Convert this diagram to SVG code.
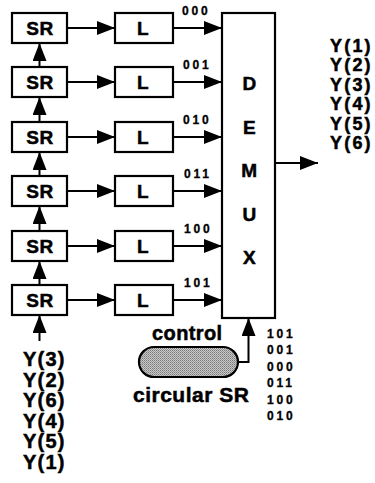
<svg xmlns="http://www.w3.org/2000/svg" width="375" height="483" viewBox="0 0 375 483">
<style>
.box{fill:#fff;stroke:#000;stroke-width:2.2}
.ln{fill:none;stroke:#000;stroke-width:2}
.t{font-family:"Liberation Sans",Arial,Helvetica,sans-serif;font-weight:bold;fill:#000;stroke:#000;stroke-width:0.5}
.big{font-size:19px;text-anchor:middle;letter-spacing:0.5px}
.code{font-size:12px;letter-spacing:2.8px;stroke-width:0.3}
.y{font-size:20px;letter-spacing:1.2px}
.yr{font-size:18px;letter-spacing:2.2px}
</style>
<defs>
<marker id="ah" markerUnits="userSpaceOnUse" markerWidth="18" markerHeight="14" refX="18" refY="7" orient="auto">
<path d="M0,0 L18,7 L0,14 Z" fill="#000"/>
</marker>
<pattern id="stip" width="2" height="2" patternUnits="userSpaceOnUse">
<rect width="2" height="2" fill="#c8c8c8"/>
<rect width="1" height="1" fill="#777"/>
<rect x="1" y="1" width="1" height="1" fill="#999"/>
</pattern>
</defs>
<rect width="375" height="483" fill="#fff"/>
<g id="connectors">
<line class="ln" x1="67" y1="28" x2="115" y2="28" marker-end="url(#ah)"/>
<line class="ln" x1="67" y1="82" x2="115" y2="82" marker-end="url(#ah)"/>
<line class="ln" x1="67" y1="137" x2="115" y2="137" marker-end="url(#ah)"/>
<line class="ln" x1="67" y1="191" x2="115" y2="191" marker-end="url(#ah)"/>
<line class="ln" x1="67" y1="246" x2="115" y2="246" marker-end="url(#ah)"/>
<line class="ln" x1="67" y1="300" x2="115" y2="300" marker-end="url(#ah)"/>
<line class="ln" x1="173" y1="28" x2="222" y2="28" marker-end="url(#ah)"/>
<line class="ln" x1="173" y1="82" x2="222" y2="82" marker-end="url(#ah)"/>
<line class="ln" x1="173" y1="137" x2="222" y2="137" marker-end="url(#ah)"/>
<line class="ln" x1="173" y1="191" x2="222" y2="191" marker-end="url(#ah)"/>
<line class="ln" x1="173" y1="246" x2="222" y2="246" marker-end="url(#ah)"/>
<line class="ln" x1="173" y1="300" x2="222" y2="300" marker-end="url(#ah)"/>
<line class="ln" x1="39.5" y1="67" x2="39.5" y2="43" marker-end="url(#ah)"/>
<line class="ln" x1="39.5" y1="122" x2="39.5" y2="97" marker-end="url(#ah)"/>
<line class="ln" x1="39.5" y1="176" x2="39.5" y2="152" marker-end="url(#ah)"/>
<line class="ln" x1="39.5" y1="231" x2="39.5" y2="206" marker-end="url(#ah)"/>
<line class="ln" x1="39.5" y1="285" x2="39.5" y2="261" marker-end="url(#ah)"/>
<line class="ln" x1="39.5" y1="341" x2="39.5" y2="315" marker-end="url(#ah)"/>
<line class="ln" x1="275" y1="163" x2="318" y2="163" marker-end="url(#ah)"/>
<polyline class="ln" points="238,362 248.5,362 248.5,318" marker-end="url(#ah)"/>
<text class="t code" x="182" y="14.5">000</text>
<text class="t code" x="183" y="68.5">001</text>
<text class="t code" x="183" y="123.5">010</text>
<text class="t code" x="184" y="177.5">011</text>
<text class="t code" x="184" y="232.5">100</text>
<text class="t code" x="184" y="286.5">101</text>
</g>
<g id="sr1"><rect class="box" x="12" y="13" width="55" height="30"/><text class="t big" x="40" y="35">SR</text></g>
<g id="sr2"><rect class="box" x="12" y="67" width="55" height="30"/><text class="t big" x="40" y="89">SR</text></g>
<g id="sr3"><rect class="box" x="12" y="122" width="55" height="30"/><text class="t big" x="40" y="144">SR</text></g>
<g id="sr4"><rect class="box" x="12" y="176" width="55" height="30"/><text class="t big" x="40" y="198">SR</text></g>
<g id="sr5"><rect class="box" x="12" y="231" width="55" height="30"/><text class="t big" x="40" y="253">SR</text></g>
<g id="sr6"><rect class="box" x="12" y="285" width="55" height="30"/><text class="t big" x="40" y="307">SR</text></g>
<g id="l1"><rect class="box" x="115" y="13" width="58" height="30"/><text class="t big" x="143" y="35">L</text></g>
<g id="l2"><rect class="box" x="115" y="67" width="58" height="30"/><text class="t big" x="143" y="89">L</text></g>
<g id="l3"><rect class="box" x="115" y="122" width="58" height="30"/><text class="t big" x="143" y="144">L</text></g>
<g id="l4"><rect class="box" x="115" y="176" width="58" height="30"/><text class="t big" x="143" y="198">L</text></g>
<g id="l5"><rect class="box" x="115" y="231" width="58" height="30"/><text class="t big" x="143" y="253">L</text></g>
<g id="l6"><rect class="box" x="115" y="285" width="58" height="30"/><text class="t big" x="143" y="307">L</text></g>
<g id="demux">
<rect class="box" x="222" y="13" width="53" height="305"/>
<text class="t big" x="249.5" y="90">D</text>
<text class="t big" x="249.5" y="134">E</text>
<text class="t big" x="249.5" y="177">M</text>
<text class="t big" x="249.5" y="221">U</text>
<text class="t big" x="249.5" y="264">X</text>
</g>
<g id="outputs">
<text class="t yr" x="330" y="52">Y(1)</text>
<text class="t yr" x="330" y="71.4">Y(2)</text>
<text class="t yr" x="330" y="90.8">Y(3)</text>
<text class="t yr" x="330" y="110.2">Y(4)</text>
<text class="t yr" x="330" y="129.6">Y(5)</text>
<text class="t yr" x="330" y="149">Y(6)</text>
</g>
<g id="inputs">
<text class="t y" x="23" y="366">Y(3)</text>
<text class="t y" x="23" y="386.6">Y(2)</text>
<text class="t y" x="23" y="407.2">Y(6)</text>
<text class="t y" x="23" y="427.8">Y(4)</text>
<text class="t y" x="23" y="448.4">Y(5)</text>
<text class="t y" x="23" y="469">Y(1)</text>
</g>
<g id="circular-sr">
<rect x="139" y="347" width="99" height="30" rx="15" ry="15" fill="url(#stip)" stroke="#000" stroke-width="2.2"/>
<text class="t" x="152" y="340" style="font-size:20px;letter-spacing:0.4px">control</text>
<text class="t" x="133" y="402" style="font-size:21px;letter-spacing:0.5px">circular SR</text>
</g>
<g id="sequence">
<text class="t code" x="267" y="338">101</text>
<text class="t code" x="267" y="354.4">001</text>
<text class="t code" x="267" y="370.8">000</text>
<text class="t code" x="267" y="387.2">011</text>
<text class="t code" x="267" y="403.6">100</text>
<text class="t code" x="267" y="420">010</text>
</g>
</svg>
